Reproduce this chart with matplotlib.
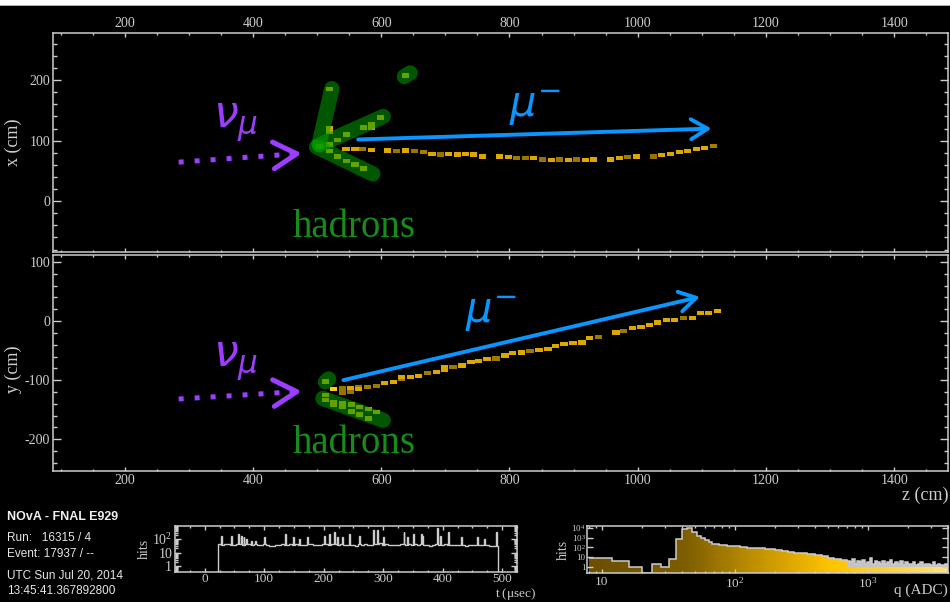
import numpy as np
import matplotlib
matplotlib.use("Agg")
import matplotlib.pyplot as plt
from matplotlib.colors import LinearSegmentedColormap, LogNorm
from matplotlib.patches import FancyArrowPatch, Polygon, Rectangle
from matplotlib.ticker import MultipleLocator, FixedLocator, LogLocator, FuncFormatter, NullFormatter

plt.rcParams["font.family"] = ["Liberation Serif", "DejaVu Serif"]
plt.rcParams["mathtext.fontset"] = "custom"
plt.rcParams["mathtext.rm"] = "Liberation Serif"
plt.rcParams["mathtext.it"] = "Liberation Serif:italic"
plt.rcParams["axes.unicode_minus"] = False

# ---------------- event data (cm, ADC) ----------------
# XZ view, muon hits
mu_xz_z = [545, 559, 571, 585, 610, 624, 638, 652, 666, 679, 693, 705, 719, 732, 744, 758,
           785, 799, 811, 825, 838, 852, 866, 878, 892, 905, 919, 931,
           958, 972, 984, 998, 1025, 1037, 1051, 1065, 1078, 1092, 1104, 1118]
mu_xz_x = [86, 86, 86, 85, 84, 83, 84, 83, 81, 78, 77, 78, 77, 78, 77, 74,
           74, 73, 71, 71, 71, 69, 68, 69, 68, 69, 68, 69,
           69, 71, 73, 74, 74, 76, 78, 81, 83, 86, 88, 91]
mu_xz_q = [260, 250, 80, 270, 280, 70, 250, 75, 90, 260, 70, 280, 250, 270, 260, 250,
           270, 260, 80, 75, 260, 70, 250, 80, 260, 75, 280, 260,
           270, 250, 80, 260, 70, 250, 260, 270, 250, 260, 280, 90]
# XZ view, hadron hits
had_xz_z = [504, 519, 519, 532, 532, 546, 546, 559, 572, 572, 585, 585, 599, 519, 519, 519, 638]
had_xz_x = [90, 94, 83, 101, 74, 110, 66, 61, 122, 54, 128, 122, 138, 185, 120, 115, 208]
had_xz_q = [250, 200, 260, 220, 250, 260, 230, 250, 240, 260, 220, 260, 250, 240, 260, 230, 250]
# XZ hadron prongs (start, end)
prong_xz = [((503, 94), (523, 186)), ((504, 93), (603, 140)),
            ((499, 90), (587, 45)), ((636, 206), (645, 212))]

# YZ view, muon hits
mu_yz_z = [525, 540, 540, 552, 552, 565, 565, 579, 593, 605, 619, 632, 632, 646, 658, 672,
           686, 699, 699, 712, 726, 740, 752, 765, 779, 793, 805, 819, 832, 846, 860, 872,
           885, 899, 913, 925, 939, 966, 978, 992, 1005, 1019, 1031, 1045, 1058, 1072, 1086,
           1098, 1111, 1125]
mu_yz_y = [-115, -114, -122, -114, -120, -112, -115, -112, -110, -105, -103, -98, -95, -95, -93, -88,
           -86, -83, -78, -78, -75, -69, -68, -64, -63, -58, -54, -53, -51, -49, -47, -42,
           -39, -37, -36, -29, -27, -19, -17, -12, -10, -7, -2, 2, 2, 5, 5,
           14, 14, 17]
mu_yz_q = [850, 70, 70, 260, 75, 80, 250, 90, 80, 260, 250, 80, 260, 250, 270, 80,
           260, 250, 260, 80, 270, 260, 250, 260, 80, 250, 260, 270, 80, 250, 260, 250,
           270, 260, 250, 260, 80, 250, 80, 260, 250, 270, 260, 250, 260, 80, 250,
           260, 250, 270]
# YZ view, hadron hits
had_yz_z = [513, 513, 513, 526, 526, 540, 540, 553, 553, 566, 566, 580, 580, 593]
had_yz_y = [-102, -125, -134, -137, -141, -139, -146, -141, -153, -146, -158, -149, -165, -154]
had_yz_q = [240, 250, 230, 260, 240, 250, 230, 260, 240, 250, 230, 260, 240, 250]
prong_yz = [((513, -103), (518, -98)), ((509, -131), (603, -168))]

# neutrino and muon arrows (tail, tip)
nu_xz = [(284, 64.5), (476, 79)]
nu_yz = [(284, -132), (476, -119)]
mu_xz = [(564, 102), (1115, 120)]
mu_yz = [(541, -100), (1097, 41)]

# ---------------- histograms ----------------
t_edges = np.arange(22.5, 497.5, 5.0)   # usec, base binning
t_base = [42, 38, 40, 44, 36, 39, 45, 41, 37, 43, 40, 38, 44, 36, 34, 41, 38, 32, 30, 34,
          36, 40, 38, 38, 45, 39, 42, 37, 38, 36, 41, 40, 38, 34, 36, 43, 42, 39, 40, 44,
          37, 41, 36, 34, 39, 38, 32, 41, 36, 40, 38, 34, 44, 46, 48, 39, 40, 36, 34, 38,
          36, 40, 42, 39, 42, 37, 40, 36, 41, 38, 38, 30, 36, 42, 39, 34, 40, 37, 38, 36,
          34, 39, 38, 32, 36, 34, 38, 35, 36, 37, 34, 32, 30, 33]
spike_t = [28.5, 45, 56.5, 61.5, 66, 71, 78.5, 86, 101, 136.5, 150, 160, 173.5, 201, 210,
           218.5, 224, 231.5, 244, 260, 284, 290, 300, 335, 341.5, 351.5, 364, 366.5, 391,
           396.5, 410, 431, 459, 470, 490]
spike_h = [180, 180, 240, 180, 135, 100, 74, 74, 135, 240, 135, 100, 135, 180, 240,
           320, 135, 135, 240, 180, 435, 435, 135, 320, 135, 240, 240, 180, 700,
           180, 320, 135, 135, 100, 320]

q_edges = [8, 12, 16, 20, 24, 28, 32, 36, 40, 44, 48, 52, 56, 60, 64, 68, 76, 88, 110,
           124, 138, 170, 200, 225, 250, 280, 315, 350, 400, 450, 500, 560, 630, 700]
q_counts = [9, 4, 1, 0, 2, 1, 6.5, 720, 7500, 8900, 3500, 1560, 850, 530, 330, 240, 190,
            150, 110, 93, 81, 70, 58, 47, 38, 30, 25, 20, 16, 12, 8, 6, 5]
q_hi_edges = np.geomspace(700, 4020, 41)
q_hi_counts = [4, 3, 6, 2, 4, 3, 5, 2, 3, 8, 2, 4, 3, 2, 4, 2, 3, 5, 2, 3,
               2, 4, 1.5, 3, 2, 2, 3, 1.5, 2, 3, 1.5, 2, 2, 1.5, 3, 1.5, 2, 1.5, 1.5, 2]

# ---------------- style ----------------
FG = "#cccccc"
PURPLE = "#9d3dff"
BLUE = "#0a96ff"
GREEN = "#00a000"
q_cmap = LinearSegmentedColormap.from_list(
    "adc", [(0.0, "#6b4f00"), (0.27, "#7c5d00"), (0.49, "#c89600"),
            (0.68, "#ffc400"), (0.85, "#ffd23a"), (1.0, "#ffe27a")])
QMIN, QMAX = 7.74, 4020
qnorm = LogNorm(QMIN, QMAX)
RECT = [(-1, -0.62), (1, -0.62), (1, 0.62), (-1, 0.62), (-1, -0.62)]

W, H = 950, 602
fig = plt.figure(figsize=(W / 100, H / 100), dpi=100, facecolor="black")
fig.patches.append(Rectangle((0, 1 - 5 / H), 1, 5 / H, transform=fig.transFigure,
                             facecolor="white", edgecolor="none"))
fig.patches.append(Rectangle((0, 1 - 6 / H), 1, 1 / H, transform=fig.transFigure,
                             facecolor="#aaaaaa", edgecolor="none"))


def px_axes(l, t, r, b):
    return fig.add_axes([l / W, 1 - b / H, (r - l) / W, (b - t) / H])


def frame(ax, xlen=3, ylen=6, size=10):
    ax.set_facecolor("black")
    for sp in ax.spines.values():
        sp.set_color(FG)
        sp.set_linewidth(1.1)
    ax.tick_params(which="both", direction="in", colors=FG, top=True, right=True,
                   labelsize=size, pad=2, width=1)
    ax.tick_params(axis="x", which="major", length=xlen)
    ax.tick_params(axis="x", which="minor", length=xlen / 2)
    ax.tick_params(axis="y", which="major", length=ylen)
    ax.tick_params(axis="y", which="minor", length=ylen / 2)


def pow10(v, pos):
    if v < 5:
        return "1"
    if v < 50:
        return "10"
    return r"$10^{%d}$" % round(np.log10(v))


def arrow(ax, tail, tip, color, lw, hl, hw, ms, dotted=False):
    (z0, y0), (z1, y1) = tail, tip
    if dotted:
        zm, ym = z0 + 0.92 * (z1 - z0), y0 + 0.92 * (y1 - y0)
        ax.plot([z0, zm], [y0, ym], color=color, lw=lw, linestyle=(0, (1, 2.2)),
                dash_capstyle="butt", zorder=4)
        tail = (zm, ym)
    ax.add_patch(FancyArrowPatch(tail, tip, arrowstyle=f"->,head_length={hl},head_width={hw}",
                                 mutation_scale=ms, color=color, lw=lw, shrinkA=0, shrinkB=0,
                                 zorder=4))


def event_view(ax, mz, my, mq, hz, hy, hq, prongs, nu, mu):
    frame(ax)
    ax.set_xlim(88, 1484)
    ax.xaxis.set_major_locator(MultipleLocator(200))
    ax.xaxis.set_minor_locator(MultipleLocator(50))
    ax.yaxis.set_major_locator(MultipleLocator(100))
    ax.yaxis.set_minor_locator(MultipleLocator(20))
    ax.scatter(mz, my, c=mq, cmap=q_cmap, norm=qnorm, marker=RECT, s=27, linewidths=0, zorder=2)
    ax.scatter(hz, hy, c=hq, cmap=q_cmap, norm=qnorm, marker=RECT, s=27, linewidths=0, zorder=2)
    for (a, b) in prongs:
        ax.plot([a[0], b[0]], [a[1], b[1]], color=GREEN, alpha=0.55, lw=11,
                solid_capstyle="round", zorder=3)
    arrow(ax, nu[0], nu[1], PURPLE, 3.6, 1.05, 0.6, 16, dotted=True)
    arrow(ax, mu[0], mu[1], BLUE, 2.8, 1.0, 0.6, 12)


ax_xz = px_axes(53, 33, 948, 252)
ax_yz = px_axes(53, 255, 948, 471)
event_view(ax_xz, mu_xz_z, mu_xz_x, mu_xz_q, had_xz_z, had_xz_x, had_xz_q, prong_xz, nu_xz, mu_xz)
event_view(ax_yz, mu_yz_z, mu_yz_y, mu_yz_q, had_yz_z, had_yz_y, had_yz_q, prong_yz, nu_yz, mu_yz)
ax_xz.set_ylim(-84, 278)
ax_yz.set_ylim(-254, 112)
ax_xz.tick_params(labeltop=True, labelbottom=False)

ax_xz.set_ylabel("x (cm)", color=FG, fontsize=13)
ax_xz.yaxis.set_label_coords(-0.035, 0.5)
ax_yz.set_ylabel("y (cm)", color=FG, fontsize=13)
ax_yz.yaxis.set_label_coords(-0.035, 0.47)
fig.text(948 / W, 1 - 495 / H, "z (cm)", color=FG, fontsize=13, ha="right", va="center")

# particle labels
for ax, (zn, yn), (zm, ym), (zh, yh) in [
        (ax_xz, (337, 121), (800, 139), (462, -59.5)),
        (ax_yz, (337, -78), (730, -4), (462, -224))]:
    ax.text(zn, yn, r"$\nu_{\mu}$", color=PURPLE, fontsize=32, math_fontfamily="dejavusans",
            ha="left", va="baseline", zorder=5)
    ax.text(zm, ym, r"$\mu^{-}$", color=BLUE, fontsize=30, math_fontfamily="dejavusans",
            ha="left", va="baseline", zorder=5)
    ax.text(zh, yh, "hadrons", color="#188c18", fontsize=28, ha="left", va="baseline", zorder=5)

# ---------------- run info ----------------
sans = ["Liberation Sans", "DejaVu Sans"]
fig.text(7 / W, 1 - 517 / H, "NOvA - FNAL E929", family=sans, weight="bold", fontsize=9,
         color="#f0f0f0", va="center")
for y, s in [(538, "Run:   16315 / 4"), (554, "Event: 17937 / --"),
             (575, "UTC Sun Jul 20, 2014"), (591, "13:45:41.367892800")]:
    fig.text(7 / W, 1 - y / H, s, family=sans, fontsize=8.5, color="#e6e6e6", va="center")

# ---------------- time histogram ----------------
# narrow spikes are split out of the 5 usec base bins
te, tv = [], []
for lo, base in zip(t_edges[:-1], t_base):
    hi = lo + 5.0
    cur = lo
    for ts, hs in sorted((s, h) for s, h in zip(spike_t, spike_h) if lo <= s < hi):
        a, b = max(ts - 0.8, cur), min(ts + 0.8, hi)
        if a > cur:
            te.append(cur)
            tv.append(base)
        te.append(a)
        tv.append(hs)
        cur = b
    if cur < hi:
        te.append(cur)
        tv.append(base)
te.append(t_edges[-1])

ax_t = px_axes(175, 526, 517, 572)
frame(ax_t, xlen=3, ylen=4)
ax_t.tick_params(axis="x", pad=1, labelsize=9.5)
tfloor = 0.36
ax_t.set_xlim(-50, 525)
ax_t.set_yscale("log")
ax_t.set_ylim(tfloor, 920)
ax_t.stairs(tv, te, baseline=tfloor, color=FG, lw=1.0)
ax_t.xaxis.set_major_locator(MultipleLocator(100))
ax_t.xaxis.set_minor_locator(MultipleLocator(25))
ax_t.yaxis.set_major_locator(FixedLocator([1, 10, 100]))
ax_t.yaxis.set_major_formatter(FuncFormatter(pow10))
ax_t.yaxis.set_minor_locator(LogLocator(subs=np.arange(2, 10)))
ax_t.yaxis.set_minor_formatter(NullFormatter())
ax_t.set_ylabel("hits", color=FG, fontsize=10, labelpad=1)
fig.text(536 / W, 1 - 594 / H, r"t ($\mathrm{\mu}$sec)", color=FG, fontsize=9.5, ha="right",
         va="center")

# ---------------- charge histogram ----------------
ax_q = px_axes(587, 526, 948, 573)
frame(ax_q, xlen=3, ylen=4, size=9.5)
ax_q.tick_params(axis="y", labelsize=6.5, pad=1)
qfloor, qtop = 0.245, 15200
ax_q.set_xscale("log")
ax_q.set_yscale("log")

all_edges = np.concatenate([q_edges, q_hi_edges[1:]])
all_counts = np.maximum(np.concatenate([q_counts, q_hi_counts]), qfloor)
xs = np.repeat(all_edges, 2)
ys = np.concatenate([[qfloor], np.repeat(all_counts, 2), [qfloor]])
clip = Polygon(np.column_stack([xs, ys]), closed=True, transform=ax_q.transData,
               facecolor="none", edgecolor="none")
ax_q.add_patch(clip)
gx = np.geomspace(QMIN, QMAX, 500)
mesh = ax_q.pcolormesh(gx, [qfloor, qtop], np.sqrt(gx[:-1] * gx[1:])[None, :], cmap=q_cmap,
                       norm=qnorm, shading="flat", edgecolors="none", antialiased=False, zorder=1)
mesh.set_clip_path(clip)
ax_q.stairs(q_hi_counts, q_hi_edges, baseline=1, fill=True, color="#c4c4c4", zorder=2)
ax_q.stairs(all_counts, all_edges, baseline=None, color=FG, lw=1.1, zorder=3)
ax_q.set_xlim(QMIN, QMAX)
ax_q.set_ylim(qfloor, qtop)
ax_q.xaxis.set_major_locator(FixedLocator([10, 100, 1000]))
ax_q.xaxis.set_major_formatter(FuncFormatter(pow10))
ax_q.xaxis.set_minor_locator(LogLocator(subs=np.arange(2, 10)))
ax_q.xaxis.set_minor_formatter(NullFormatter())
ax_q.yaxis.set_major_locator(FixedLocator([1, 10, 100, 1e3, 1e4]))
ax_q.yaxis.set_major_formatter(FuncFormatter(pow10))
ax_q.yaxis.set_minor_locator(LogLocator(subs=np.arange(2, 10)))
ax_q.yaxis.set_minor_formatter(NullFormatter())
ax_q.set_ylabel("hits", color=FG, fontsize=10, labelpad=1)
fig.text(948 / W, 1 - 590 / H, "q (ADC)", color=FG, fontsize=11, ha="right", va="center")

fig.savefig("out.png", dpi=100, facecolor="black")
